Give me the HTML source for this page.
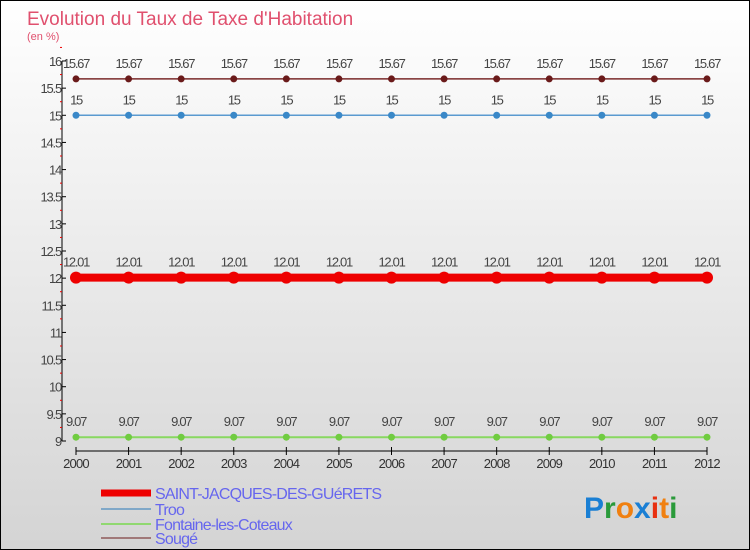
<!DOCTYPE html>
<html><head><meta charset="utf-8"><style>
body{margin:0}
#c{position:relative;width:750px;height:550px;box-sizing:border-box;border:1px solid #000;background:linear-gradient(#ffffff,#d4d4d4);font-family:"Liberation Sans",sans-serif;overflow:hidden}
svg text{font-family:"Liberation Sans",sans-serif}
</style></head><body>
<div id="c">
<svg width="750" height="550" id="s">
<text x="26" y="24" font-size="19" fill="#e0506e">Evolution du Taux de Taxe d'Habitation</text>
<text x="26" y="39" font-size="11" fill="#e0506e">(en %)</text>
<g id="axes"></g><g id="series"></g>
<g>
<line x1="100" y1="492" x2="150" y2="492" stroke="#e00" stroke-width="7"/>
<text x="154" y="498" font-size="16" fill="#6666ee" letter-spacing="-0.8">SAINT-JACQUES-DES-GUéRETS</text>
<line x1="100" y1="508" x2="150" y2="508" stroke="#80a8c8" stroke-width="2"/>
<text x="154" y="514" font-size="16" fill="#6666ee" letter-spacing="-0.8">Troo</text>
<line x1="100" y1="523" x2="150" y2="523" stroke="#90d870" stroke-width="2"/>
<text x="154" y="529" font-size="16" fill="#6666ee" letter-spacing="-0.8">Fontaine-les-Coteaux</text>
<line x1="100" y1="537" x2="150" y2="537" stroke="#a07878" stroke-width="2"/>
<text x="154" y="543" font-size="16" fill="#6666ee" letter-spacing="-0.8">Sougé</text>
</g>
<g font-size="30" font-weight="bold">
<text x="583" y="517"><tspan fill="#1a7fd4">P</tspan><tspan fill="#2a9a3a">r</tspan><tspan fill="#f08010">o</tspan><tspan fill="#1a7fd4">x</tspan><tspan fill="#e83010">i</tspan><tspan fill="#f08010">t</tspan><tspan fill="#2a9a3a">i</tspan></text>
</g>
</svg>
</div>
<script>
const years=[2000,2001,2002,2003,2004,2005,2006,2007,2008,2009,2010,2011,2012];
const saintJacques=[12.01,12.01,12.01,12.01,12.01,12.01,12.01,12.01,12.01,12.01,12.01,12.01,12.01];
const troo=[15,15,15,15,15,15,15,15,15,15,15,15,15];
const fontaine=[9.07,9.07,9.07,9.07,9.07,9.07,9.07,9.07,9.07,9.07,9.07,9.07,9.07];
const souge=[15.67,15.67,15.67,15.67,15.67,15.67,15.67,15.67,15.67,15.67,15.67,15.67,15.67];
const yTicks=[9,9.5,10,10.5,11,11.5,12,12.5,13,13.5,14,14.5,15,15.5,16];
const NS="http://www.w3.org/2000/svg";
const x=i=>75+(i-2000)*(706-75)/12;
const y=v=>60+(16-v)*(440-60)/7;
function mk(t,a,p){const e=document.createElementNS(NS,t);for(const k in a)e.setAttribute(k,a[k]);p.appendChild(e);return e;}
const ax=document.getElementById('axes');
let l=mk('line',{x1:61,y1:60,x2:61,y2:440,stroke:'#000'},ax);


yTicks.forEach(v=>{
 let t=mk('line',{x1:61,y1:y(v),x2:65,y2:y(v),stroke:'#000'},ax);
 
 
 let m=mk('line',{x1:59,y1:y(v+0.25),x2:61,y2:y(v+0.25),stroke:'#e00'},ax);
 
 
 let tx=mk('text',{x:60,y:y(v)+5,'font-size':13,fill:'#444','text-anchor':'end','letter-spacing':'-1.2'},ax);
 tx.textContent=String(v);
 
 
});
let xl=mk('line',{x1:75,y1:450,x2:706,y2:450,stroke:'#000'},ax);


years.forEach(yr=>{
 let t=mk('line',{x1:x(yr),y1:446,x2:x(yr),y2:454,stroke:'#000'},ax);
 
 
 let tx=mk('text',{x:x(yr),y:467,'font-size':13,fill:'#333','text-anchor':'middle','letter-spacing':'-0.8'},ax);
 tx.textContent=yr;
 
 
});
const sg=document.getElementById('series');
function series(name,vals,col,w,r,fill){
 const g=mk('g',{},sg);
 
 
 const pl=mk('polyline',{points:vals.map((v,i)=>x(years[i])+','+y(v)).join(' '),fill:'none',stroke:col,'stroke-width':w},g);
 
 
 vals.forEach((v,i)=>{
  const c=mk('circle',{cx:x(years[i]),cy:y(v),r:r,fill:fill},g);
  
  
  const t=mk('text',{x:x(years[i]),y:y(v)-11,'font-size':13,fill:'#444','text-anchor':'middle','letter-spacing':'-1.3'},g);
  t.textContent=String(v);
  
  
 });
}
series('souge',souge,'#7a2a2a',1.5,3.5,'#6a1a1a');
series('troo',troo,'#5a9ad0',1.5,3.5,'#3a88c8');
series('saint-jacques',saintJacques,'#ee0000',8,6,'#ee0000');
series('fontaine',fontaine,'#88d860',2,3.5,'#70cc40');
</script>
</body></html>
